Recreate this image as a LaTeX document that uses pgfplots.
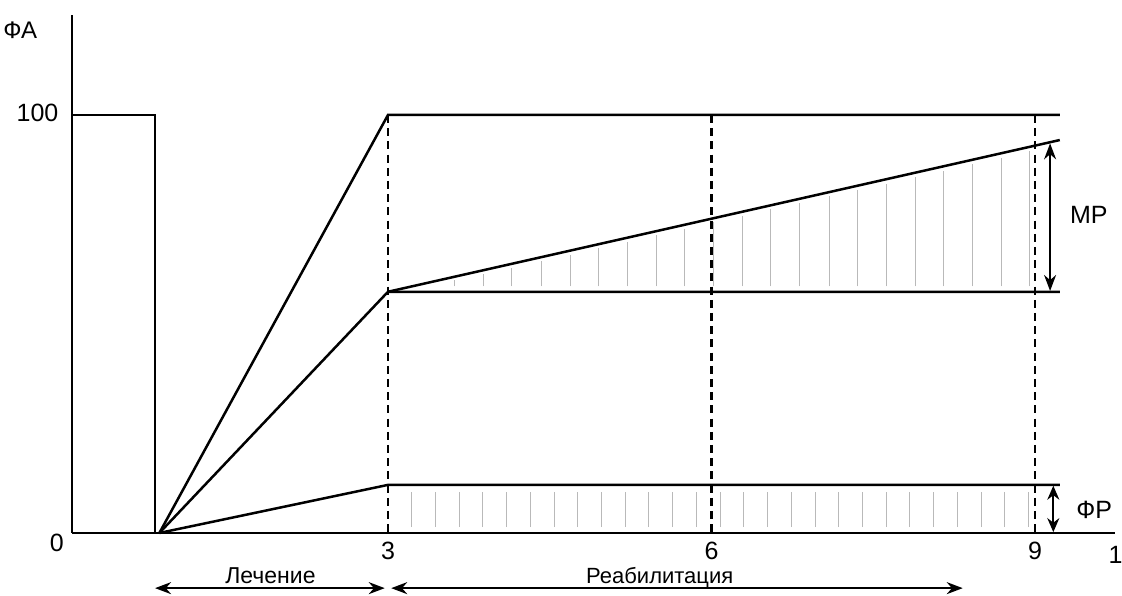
\documentclass[border=0pt]{standalone}
\usepackage{fontspec}
\setmainfont{Liberation Sans}
\usepackage{pgfplots}
\pgfplotsset{compat=1.18}
\usetikzlibrary{arrows.meta}

\begin{document}
\begin{tikzpicture}
\begin{axis}[
    x=53.915pt, y=2.09pt,
    xmin=0.07, xmax=9.74,
    ymin=0, ymax=124,
    axis lines=left,
    axis line style={-, line width=1pt},
    xtick={3,6,9},
    ytick=\empty,
    major tick length=0pt,
    /pgf/number format/assume math mode=true,
    xticklabel style={font=\fontsize{12.5}{14}\selectfont, yshift=-1pt},
    clip=false,
    unbounded coords=jump,
]
% hatching, upper band (between flat level and the rising line)
\addplot[gray!55, line width=0.5pt, forget plot] coordinates {
    (3.62,59) (3.62,60.4) (3.62,nan)
    (3.89,59) (3.89,61.9) (3.89,nan)
    (4.15,59) (4.15,63.5) (4.15,nan)
    (4.42,59) (4.42,65.0) (4.42,nan)
    (4.69,59) (4.69,66.6) (4.69,nan)
    (4.95,59) (4.95,68.1) (4.95,nan)
    (5.22,59) (5.22,69.7) (5.22,nan)
    (5.49,59) (5.49,71.2) (5.49,nan)
    (5.75,59) (5.75,72.8) (5.75,nan)
    (6.02,59) (6.02,74.3) (6.02,nan)
    (6.29,59) (6.29,75.9) (6.29,nan)
    (6.55,59) (6.55,77.4) (6.55,nan)
    (6.82,59) (6.82,79.0) (6.82,nan)
    (7.09,59) (7.09,80.5) (7.09,nan)
    (7.35,59) (7.35,82.1) (7.35,nan)
    (7.62,59) (7.62,83.6) (7.62,nan)
    (7.89,59) (7.89,85.2) (7.89,nan)
    (8.15,59) (8.15,86.7) (8.15,nan)
    (8.42,59) (8.42,88.3) (8.42,nan)
    (8.69,59) (8.69,89.8) (8.69,nan)
    (8.95,59) (8.95,91.4)
};
% hatching, lower band
\addplot[gray!55, line width=0.5pt, forget plot] coordinates {
    (3.22,1.4) (3.22,9.8) (3.22,nan)
    (3.44,1.4) (3.44,9.8) (3.44,nan)
    (3.66,1.4) (3.66,9.8) (3.66,nan)
    (3.88,1.4) (3.88,9.8) (3.88,nan)
    (4.10,1.4) (4.10,9.8) (4.10,nan)
    (4.32,1.4) (4.32,9.8) (4.32,nan)
    (4.54,1.4) (4.54,9.8) (4.54,nan)
    (4.76,1.4) (4.76,9.8) (4.76,nan)
    (4.98,1.4) (4.98,9.8) (4.98,nan)
    (5.20,1.4) (5.20,9.8) (5.20,nan)
    (5.42,1.4) (5.42,9.8) (5.42,nan)
    (5.64,1.4) (5.64,9.8) (5.64,nan)
    (5.86,1.4) (5.86,9.8) (5.86,nan)
    (6.08,1.4) (6.08,9.8) (6.08,nan)
    (6.30,1.4) (6.30,9.8) (6.30,nan)
    (6.52,1.4) (6.52,9.8) (6.52,nan)
    (6.74,1.4) (6.74,9.8) (6.74,nan)
    (6.96,1.4) (6.96,9.8) (6.96,nan)
    (7.18,1.4) (7.18,9.8) (7.18,nan)
    (7.40,1.4) (7.40,9.8) (7.40,nan)
    (7.62,1.4) (7.62,9.8) (7.62,nan)
    (7.84,1.4) (7.84,9.8) (7.84,nan)
    (8.06,1.4) (8.06,9.8) (8.06,nan)
    (8.28,1.4) (8.28,9.8) (8.28,nan)
    (8.50,1.4) (8.50,9.8) (8.50,nan)
    (8.72,1.4) (8.72,9.8) (8.72,nan)
    (8.94,1.4) (8.94,9.8)
};
% dashed verticals at 3, 6, 9
\addplot[black, line width=1.4pt, dash pattern=on 4pt off 2.6pt] coordinates {
    (3,100) (3,0) (3,nan) (6,100) (6,0) (6,nan) (9,100) (9,0)
};
% initial level and drop
\addplot[black, line width=1.25pt] coordinates {(0.07,100) (0.84,100) (0.84,0)};
% three recovery paths
\addplot[black, line width=1.25pt] coordinates {(0.88,0) (3,100) (9.23,100)};
\addplot[black, line width=1.25pt] coordinates {(0.88,0) (3,57.7) (9.23,57.7)};
\addplot[black, line width=1.25pt] coordinates {(3,57.7) (9.23,94)};
\addplot[black, line width=1.25pt] coordinates {(0.88,0) (3,11.5) (9.23,11.5)};

% annotations
\draw[{Stealth[length=8pt,width=6pt]}-{Stealth[length=8pt,width=6pt]}, line width=1pt]
    (axis cs:9.14,57.9) -- (axis cs:9.14,93.2);
\draw[{Stealth[length=7pt,width=6pt]}-{Stealth[length=7pt,width=6pt]}, line width=1pt]
    (axis cs:9.17,0.2) -- (axis cs:9.17,11.3);
\node[font=\fontsize{12.5}{14}\selectfont] at (axis cs:9.5,76) {МР};
\node[font=\fontsize{12.5}{14}\selectfont] at (axis cs:9.55,5.5) {ФР};
\node[font=\fontsize{12}{14}\selectfont] at (axis cs:-0.41,120.3) {ФА};
\node[font=\fontsize{12.5}{14}\selectfont] at (axis cs:-0.25,100.5) {100};
\node[font=\fontsize{12.5}{14}\selectfont] at (axis cs:-0.07,-2.4) {0};
\node[font=\fontsize{12.5}{14}\selectfont, anchor=west, inner sep=0pt] at (axis cs:9.68,-5.3) {1};

\draw[{Stealth[length=8pt,width=6pt]}-{Stealth[length=8pt,width=6pt]}, line width=1pt]
    (axis cs:0.84,-13.2) -- (axis cs:2.97,-13.2);
\draw[{Stealth[length=8pt,width=6pt]}-{Stealth[length=8pt,width=6pt]}, line width=1pt]
    (axis cs:3.03,-13.2) -- (axis cs:8.33,-13.2);
\node[font=\fontsize{11.5}{13}\selectfont] at (axis cs:1.91,-10.3) {Лечение};
\node[font=\fontsize{11}{13}\selectfont] at (axis cs:5.52,-10.6) {Реабилитация};

\coordinate (bl) at (axis cs:-0.598,-15.07);
\coordinate (tr) at (axis cs:9.807,127.5);
\end{axis}
\pgfresetboundingbox
\useasboundingbox (bl) rectangle (tr);
\end{tikzpicture}
\end{document}
